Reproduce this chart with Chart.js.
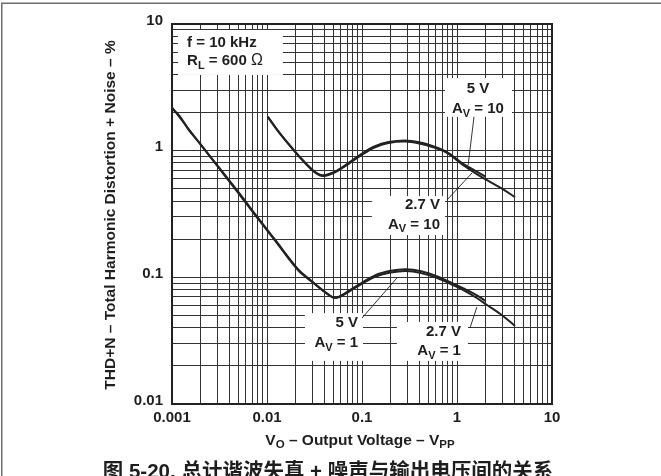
<!DOCTYPE html>
<html>
<head>
<meta charset="utf-8">
<script src="https://cdn.jsdelivr.net/npm/chart.js@4.4.1/dist/chart.umd.min.js"></script>
<style>
  html, body { margin: 0; padding: 0; background: #fff; }
  canvas { display: block; }
</style>
</head>
<body>
<canvas id="thd" width="661" height="476"></canvas>
<script>
// THD+N (%) against output voltage (Vpp), f = 10 kHz, RL = 600 ohm
const vo5vG1  = [0.001, 0.0013, 0.0016, 0.002, 0.0032, 0.0041, 0.0055, 0.0075, 0.0121, 0.0212, 0.029, 0.0379, 0.046, 0.0507, 0.058, 0.0843, 0.137, 0.20, 0.29, 0.42, 0.62, 0.9, 1.156, 1.6, 2.07, 3.0, 4.08];
const thd5vG1 = [2.2, 1.70, 1.39, 1.12, 0.71, 0.56, 0.42, 0.31, 0.196, 0.114, 0.0935, 0.0794, 0.0715, 0.0690, 0.0700, 0.0824, 0.1007, 0.109, 0.1123, 0.108, 0.0985, 0.087, 0.0795, 0.069, 0.0605, 0.050, 0.0413];

const vo27vG1  = [0.001, 0.0012, 0.0015, 0.002, 0.0032, 0.0041, 0.0055, 0.0075, 0.0121, 0.0212, 0.029, 0.0379, 0.046, 0.0507, 0.058, 0.0843, 0.137, 0.20, 0.29, 0.42, 0.62, 0.9, 1.156, 1.6, 2.0];
const thd27vG1 = [2.15, 1.88, 1.46, 1.12, 0.72, 0.57, 0.43, 0.315, 0.199, 0.116, 0.0945, 0.0800, 0.0718, 0.0692, 0.0706, 0.0840, 0.1035, 0.1125, 0.1158, 0.1115, 0.1015, 0.0895, 0.0820, 0.0725, 0.0650];

const vo5vG10  = [0.0102, 0.0135, 0.0188, 0.025, 0.0305, 0.035, 0.0388, 0.045, 0.055, 0.0748, 0.1, 0.135, 0.19, 0.284, 0.40, 0.55, 0.785, 1.156, 1.6, 2.07, 3.0, 4.08];
const thd5vG10 = [1.84, 1.38, 1.02, 0.80, 0.69, 0.645, 0.632, 0.645, 0.69, 0.80, 0.93, 1.06, 1.15, 1.18, 1.14, 1.07, 0.96, 0.77, 0.655, 0.585, 0.50, 0.43];

const vo27vG10  = [0.0102, 0.0135, 0.0188, 0.025, 0.0305, 0.035, 0.0388, 0.045, 0.055, 0.0748, 0.1, 0.135, 0.19, 0.284, 0.40, 0.55, 0.785, 1.156, 1.6, 2.0];
const thd27vG10 = [1.86, 1.39, 1.03, 0.81, 0.70, 0.652, 0.640, 0.655, 0.70, 0.815, 0.95, 1.08, 1.17, 1.205, 1.165, 1.09, 0.975, 0.79, 0.685, 0.625];

// Axis ranges and labelled decades
const xTickValues = [0.001, 0.01, 0.1, 1, 10];
const xTickLabels = ['0.001', '0.01', '0.1', '1', '10'];
const yTickValues = [0.01, 0.1, 1, 10];
const yTickLabels = ['0.01', '0.1', '1', '10'];

const xTitle = 'V_{O} – Output Voltage – V_{PP}';
const yTitle = 'THD+N – Total Harmonic Distortion + Noise – %';
const caption = '图 5-20. 总计谐波失真 + 噪声与输出电压间的关系';

// Condition labels: white box (x1, y1, x2, y2 in data units), text anchor, alignment
const notes = [
  { box: [0.001157, 8.97, 0.01472, 3.96], x: 0.00144, y: 6.58, align: 'left',   step: 18, lines: ['f = 10 kHz', 'R_{L} = 600 Ω'] },
  { box: [0.748, 3.75, 3.79, 1.85],       x: 1.66,    y: 2.83, align: 'center', step: 20, lines: ['5 V', 'A_{V} = 10'] },
  { box: [0.127, 0.438, 0.748, 0.216],    x: 0.662,   y: 0.349, align: 'right', step: 20, lines: ['2.7 V', 'A_{V} = 10'] },
  { box: [0.0251, 0.0522, 0.1025, 0.0219], x: 0.0908, y: 0.0405, align: 'right', step: 20, lines: ['5 V', 'A_{V} = 1'] },
  { box: [0.233, 0.0444, 1.306, 0.0219],  x: 1.10,    y: 0.0344, align: 'right', step: 19, lines: ['2.7 V', 'A_{V} = 1'] },
];
// Leader lines from each label to its curve (x1, y1, x2, y2 in data units)
const leaders = [
  [1.51, 1.85, 1.31, 0.771],
  [0.785, 0.408, 1.44, 0.667],
  [0.1, 0.0477, 0.233, 0.0989],
  [1.37, 0.0398, 1.62, 0.0583],
];

// Log grid: lines at 1..9 of every decade
function logGrid(min, max) {
  const out = [];
  for (let e = Math.round(Math.log10(min)); e < Math.round(Math.log10(max)); e++) {
    for (let m = 1; m <= 9; m++) out.push(+(m * Math.pow(10, e)).toPrecision(6));
  }
  out.push(max);
  return out;
}
const xGrid = logGrid(0.001, 10);
const yGrid = logGrid(0.01, 10);

const SANS = "'Liberation Sans', Arial, Helvetica, sans-serif";
const INK = '#1e1e1e';
const MAIN_FONT = 'bold 15px ' + SANS;
const SUB_FONT = 'bold 11px ' + SANS;
const SYM_FONT = '16px ' + SANS;

function pairs(xs, ys) { return xs.map((x, i) => ({ x, y: ys[i] })); }

function labelFor(values, labels) {
  return (value) => {
    const i = values.findIndex(v => Math.abs(Math.log10(v) - Math.log10(value)) < 1e-6);
    return i >= 0 ? labels[i] : '';
  };
}

// Split "A_{V} = 10" into plain / subscript / symbol runs
function parseRich(str) {
  const out = [];
  const re = /_\{([^}]*)\}|Ω|[^_Ω]+/g;
  let m;
  while ((m = re.exec(str))) {
    if (m[1] !== undefined) out.push({ t: m[1], sub: true });
    else if (m[0] === 'Ω') out.push({ t: 'Ω', sym: true });
    else out.push({ t: m[0] });
  }
  return out;
}

function drawRich(ctx, str, x, y, align, fonts) {
  const segs = parseRich(str);
  const f = s => s.sub ? fonts.sub : s.sym ? fonts.sym : fonts.main;
  let total = 0;
  segs.forEach(s => { ctx.font = f(s); s.w = ctx.measureText(s.t).width; total += s.w; });
  let cx = align === 'left' ? x : align === 'right' ? x - total : x - total / 2;
  ctx.textAlign = 'left';
  ctx.textBaseline = 'alphabetic';
  segs.forEach(s => {
    ctx.font = f(s);
    ctx.fillText(s.t, cx, y + (s.sub ? fonts.drop : 0));
    cx += s.w;
  });
}

const labelsPlugin = {
  id: 'thdLabels',
  beforeDatasetsDraw(chart) {
    const { ctx, scales: { x, y } } = chart;
    ctx.save();
    ctx.fillStyle = '#fff';
    notes.forEach(n => {
      const x1 = x.getPixelForValue(n.box[0]), y1 = y.getPixelForValue(n.box[1]);
      const x2 = x.getPixelForValue(n.box[2]), y2 = y.getPixelForValue(n.box[3]);
      ctx.fillRect(x1, y1, x2 - x1, y2 - y1);
    });
    ctx.restore();
  },
  afterDatasetsDraw(chart) {
    const { ctx, chartArea: a, scales: { x, y } } = chart;
    ctx.save();
    ctx.fillStyle = INK;
    const fonts = { main: MAIN_FONT, sub: SUB_FONT, sym: SYM_FONT, drop: 3.5 };
    notes.forEach(n => {
      const px = x.getPixelForValue(n.x), py = y.getPixelForValue(n.y);
      n.lines.forEach((line, i) => drawRich(ctx, line, px, py + i * n.step, n.align, fonts));
    });
    ctx.strokeStyle = INK;
    ctx.lineWidth = 0.9;
    leaders.forEach(l => {
      ctx.beginPath();
      ctx.moveTo(x.getPixelForValue(l[0]), y.getPixelForValue(l[1]));
      ctx.lineTo(x.getPixelForValue(l[2]), y.getPixelForValue(l[3]));
      ctx.stroke();
    });
    // plot frame
    ctx.lineWidth = 2;
    ctx.strokeStyle = '#222';
    ctx.strokeRect(a.left, a.top, a.right - a.left, a.bottom - a.top);
    ctx.restore();
  },
  afterDraw(chart) {
    const { ctx, chartArea: a } = chart;
    ctx.save();
    ctx.fillStyle = INK;
    // y-axis title
    ctx.save();
    ctx.translate(111, (a.top + a.bottom) / 2 + 1);
    ctx.rotate(-Math.PI / 2);
    ctx.font = 'bold 15.5px ' + SANS;
    ctx.textAlign = 'center';
    ctx.textBaseline = 'middle';
    ctx.fillText(yTitle, 0, 0);
    ctx.restore();
    // x-axis title
    drawRich(ctx, xTitle, (a.left + a.right) / 2 - 2, 445, 'center',
      { main: 'bold 15.5px ' + SANS, sub: 'bold 11.5px ' + SANS, sym: 'bold 15.5px ' + SANS, drop: 3 });
    // figure caption
    ctx.font = "bold 20.5px 'Liberation Sans', 'Noto Sans CJK SC', sans-serif";
    ctx.textAlign = 'center';
    ctx.textBaseline = 'alphabetic';
    ctx.fillText(caption, 328, 478);
    // page frame
    ctx.strokeStyle = '#6e6e6e';
    ctx.lineWidth = 1.5;
    ctx.beginPath();
    ctx.moveTo(1.75, chart.height);
    ctx.lineTo(1.75, 3.25);
    ctx.lineTo(chart.width, 3.25);
    ctx.stroke();
    ctx.restore();
  }
};

const curve = {
  borderColor: '#222',
  borderWidth: 2,
  pointRadius: 0,
  fill: false,
  tension: 0.35
};

new Chart(document.getElementById('thd'), {
  type: 'line',
  data: {
    datasets: [
      { ...curve, label: '5 V, AV = 1',    data: pairs(vo5vG1, thd5vG1) },
      { ...curve, label: '2.7 V, AV = 1',  data: pairs(vo27vG1, thd27vG1) },
      { ...curve, label: '5 V, AV = 10',   data: pairs(vo5vG10, thd5vG10) },
      { ...curve, label: '2.7 V, AV = 10', data: pairs(vo27vG10, thd27vG10) },
    ]
  },
  options: {
    responsive: false,
    animation: false,
    devicePixelRatio: 1,
    events: [],
    layout: { padding: { left: 0, top: 24, right: 109, bottom: 0 } },
    plugins: { legend: { display: false }, tooltip: { enabled: false } },
    scales: {
      x: {
        type: 'logarithmic',
        min: 0.001,
        max: 10,
        afterBuildTicks: s => { s.ticks = xGrid.map(v => ({ value: v })); },
        afterFit: s => { s.height = 72; },
        grid: { color: '#333', lineWidth: 1, drawTicks: false },
        border: { display: false },
        ticks: {
          autoSkip: false, maxRotation: 0, minRotation: 0, padding: 5,
          color: INK, font: { family: SANS, size: 15, weight: 'bold' },
          callback: labelFor(xTickValues, xTickLabels)
        }
      },
      y: {
        type: 'logarithmic',
        min: 0.01,
        max: 10,
        afterBuildTicks: s => { s.ticks = yGrid.map(v => ({ value: v })); },
        afterFit: s => { s.width = 172; },
        grid: { color: '#333', lineWidth: 1, drawTicks: false },
        border: { display: false },
        ticks: {
          autoSkip: false, padding: 9, labelOffset: -3.5,
          color: INK, font: { family: SANS, size: 15, weight: 'bold' },
          callback: labelFor(yTickValues, yTickLabels)
        }
      }
    }
  },
  plugins: [labelsPlugin]
});
</script>
</body>
</html>
